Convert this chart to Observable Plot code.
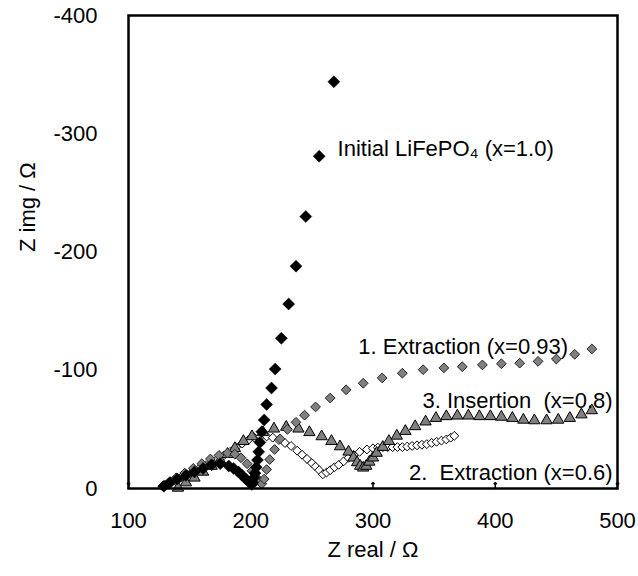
<!DOCTYPE html>
<html><head><meta charset="utf-8">
<script src="https://cdn.jsdelivr.net/npm/d3@7"></script>
<script src="https://cdn.jsdelivr.net/npm/@observablehq/plot@0.6"></script>
<style>body{margin:0;background:#fff}</style>
</head><body><div id="chart"></div>
<script>
// Initial LiFePO4 (x=1.0) — black diamonds
const initX = [129,134,140,147,154,161,168,175,182,186,190,193,196,199,201,201.5,202.5,203.5,204.5,205.5,206.5,207.5,209,211,213,217,220,225,231,237,245,256,268];
const initY = [-2,-5,-8,-11,-14,-17,-20,-21,-19,-17,-14,-11,-8,-5,-3.5,-5,-9,-13,-18,-24,-31,-39,-48,-58,-71,-85,-101,-127,-156,-188,-230,-281,-344];
// 1. Extraction (x=0.93) — grey diamonds
const ext1X = [128,133,139,146,153,160,167,174,181,187,192,197,201,204,207,209,211,213,215.5,219.5,224,230,237,244,253,265,278,292,307.5,324,341,358,373,389.5,405,420,435,450,465,479];
const ext1Y = [-2,-5,-9,-13,-17,-21,-25,-28,-30,-29,-26,-21,-15,-10,-6,-4,-8,-16,-24.5,-33,-42,-50,-56,-62,-69,-76.5,-83.5,-89,-93.5,-97.5,-100.5,-102,-103,-104.5,-105.5,-106,-107.5,-109.5,-113.5,-118];
// 3. Insertion (x=0.8) — grey triangles
const insX = [140.5,147,154,161,168,175,181,187,194,201,210,219,229,239,248,258,266,273,280,284,287,289.5,292,294.5,297,300,303,308,313,319.5,326.5,334.5,343,351.5,360,369,378,387,396,405,414,423,432,442,451.5,461,470.5,479];
const insY = [-0.5,-5,-9,-14,-19,-24,-29,-34,-40,-44,-47.5,-50.5,-52,-50.5,-47.5,-44,-40,-35.5,-31,-26,-22,-19,-17.5,-19,-22.5,-26,-30,-35,-40,-44.5,-48.5,-52.5,-56.5,-59.5,-61,-61.5,-61.5,-61,-61,-60.5,-59.5,-58,-57.5,-57.5,-58,-59.5,-62.5,-66];
// 2. Extraction (x=0.6) — white diamonds
const ext2X = [130,134,138,143,148,153,158,163,168,173,178,183,188,193,198,203,208,213,218,223,228,233,238,242,246,250,253,256,259,262,265,268.5,272,276,280,284,289,295,300,304,308,312,316,320,324,328,332,336,340,344,348,352,356,360,363.5,366.5];
const ext2Y = [-3,-5,-7,-9.5,-12,-14.5,-17,-19.5,-22,-25,-28,-31,-35,-38,-41,-43,-44,-44,-43,-41,-38.5,-36,-32,-28.5,-25,-21.5,-18.5,-15.5,-12,-13.5,-15.5,-18,-20,-23,-26,-28.5,-31,-33,-34,-34.5,-35,-35,-35,-35,-35,-35.5,-36,-36.5,-37,-37.5,-38.5,-39.5,-40.5,-41.5,-43,-44.5];

const xTicks = [100,200,300,400,500];
const yTicks = [0,-100,-200,-300,-400];
const xTitle = "Z real / Ω";
const yTitle = "Z img / Ω";
const labelText = ["Initial LiFePO\u2084 (x=1.0)", "1. Extraction (x=0.93)", "3. Insertion\u00a0 (x=0.8)", "2.\u00a0 Extraction (x=0.6)"];
const labelX = [271, 288, 496, 496];
const labelY = [-287, -120, -74, -13];
const labelAnchor = ["start", "start", "end", "end"];

const rows = (xs, ys) => xs.map((x, i) => ({x, y: ys[i]}));
const FONT = "'Liberation Sans', Arial, Helvetica, sans-serif";
const labelRows = labelText.map((t, i) => ({t, x: labelX[i], y: labelY[i], a: labelAnchor[i]}));

const chart = Plot.plot({
  width: 638, height: 576,
  marginLeft: 128, marginRight: 21, marginTop: 15, marginBottom: 88,
  style: {fontFamily: FONT, fontSize: "22px", color: "#000", background: "#fff"},
  x: {domain: [100, 500]},
  y: {domain: [0, -400]},
  marks: [
    Plot.axisX(xTicks, {tickSize: 0, tickPadding: 24, tickFormat: d => String(d), label: null, fontSize: 22}),
    Plot.axisY(yTicks, {tickSize: 0, tickPadding: 31, tickFormat: d => String(d), label: null, fontSize: 22}),
    Plot.vector(xTicks, {x: d => d, frameAnchor: "bottom", length: 6, anchor: "start", rotate: 0, stroke: "#000", strokeWidth: 1.5}),
    Plot.text([xTitle], {frameAnchor: "bottom", dy: 68, fontSize: 22, fill: "#000"}),
    Plot.text([yTitle], {frameAnchor: "left", dx: -101, rotate: -90, fontSize: 22, fill: "#000"}),
    Plot.dot(rows(ext2X, ext2Y), {x: "x", y: "y", symbol: "diamond2", r: 4, fill: "#fff", stroke: "#000", strokeWidth: 1}),
    Plot.dot(rows(insX, insY), {x: "x", y: "y", symbol: "triangle", r: 4.2, fill: "#808080", stroke: "#000", strokeWidth: 1}),
    Plot.dot(rows(ext1X, ext1Y), {x: "x", y: "y", symbol: "diamond2", r: 4.4, fill: "#808080", stroke: "#222", strokeWidth: 1}),
    Plot.dot(rows(initX, initY), {x: "x", y: "y", symbol: "diamond2", r: 5.4, fill: "#000", stroke: "#000", strokeWidth: 0.5}),
    Plot.text(labelRows.filter(d => d.a === "start"), {x: "x", y: "y", text: "t", textAnchor: "start", fontSize: 22, fill: "#000"}),
    Plot.text(labelRows.filter(d => d.a === "end"), {x: "x", y: "y", text: "t", textAnchor: "end", fontSize: 22, fill: "#000"}),
    Plot.frame({stroke: "#000", strokeWidth: 2.5})
  ]
});
document.getElementById("chart").appendChild(chart);
</script>
</body></html>
